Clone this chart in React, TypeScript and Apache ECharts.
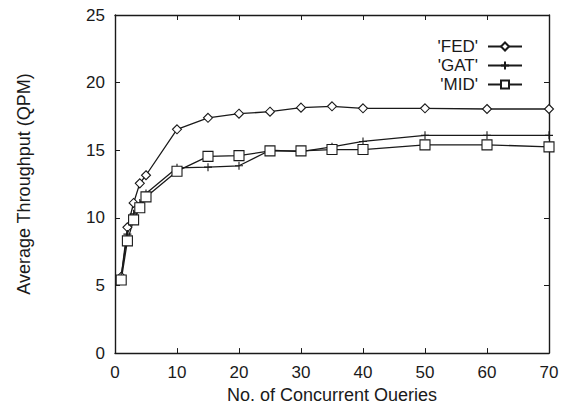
import React, { useEffect, useRef } from "react";
import * as echarts from "echarts";

const xValues = [1, 2, 3, 4, 5, 10, 15, 20, 25, 30, 35, 40, 50, 60, 70];
const fedValues = [5.65, 9.3, 11.1, 12.55, 13.15, 16.55, 17.4, 17.7, 17.85, 18.15, 18.25, 18.1, 18.1, 18.05, 18.05];
const gatValues = [5.7, 8.8, 10.3, 11.1, 11.8, 13.7, 13.75, 13.85, 15.0, 14.9, 15.25, 15.65, 16.1, 16.1, 16.1];
const midValues = [5.4, 8.3, 9.85, 10.75, 11.55, 13.45, 14.55, 14.6, 14.95, 14.95, 15.05, 15.05, 15.4, 15.4, 15.25];
const xTicks = { min: 0, max: 70, interval: 10 };
const yTicks = { min: 0, max: 25, interval: 5 };
const seriesNames = ["'FED'", "'GAT'", "'MID'"];

const PLUS = "path://M5,0L5,10M0,5L10,5";

export default function App() {
  const ref = useRef<HTMLDivElement>(null);
  useEffect(() => {
    if (!ref.current) return;
    const chart = echarts.init(ref.current, null, { renderer: "svg" });
    const font = "'Liberation Sans', Arial, Helvetica, sans-serif";
    const ink = "#1a1a1a";
    const pair = (vals: number[]) => xValues.map((x, i) => [x, vals[i]]);
    const baseSeries = (name: string, vals: number[], symbol: string, size: number) => ({
      name,
      type: "line",
      data: pair(vals),
      symbol,
      symbolSize: size,
      showAllSymbol: true,
      lineStyle: { color: ink, width: 1.3 },
      itemStyle: { color: "#ffffff", borderColor: ink, borderWidth: 1.1 },
      emphasis: { disabled: true },
    });
    const axisCommon = {
      axisLine: { show: true, onZero: false, lineStyle: { color: ink, width: 1.4 } },
      axisTick: { show: true, inside: true, length: 5, lineStyle: { color: ink, width: 1 } },
      splitLine: { show: false },
    };
    chart.setOption({
      animation: false,
      backgroundColor: "#ffffff",
      textStyle: { fontFamily: font },
      grid: { left: 115, right: 19, top: 15, bottom: 52 },
      legend: {
        orient: "vertical",
        right: 40,
        top: 33,
        align: "right",
        itemWidth: 34,
        itemHeight: 10,
        itemGap: 2,
        textStyle: { fontFamily: font, fontSize: 17, color: ink, padding: [0, 5, 0, 0] },
        data: seriesNames,
      },
      xAxis: [
        {
          type: "value",
          ...xTicks,
          position: "bottom",
          ...axisCommon,
          axisLabel: { color: ink, fontSize: 17, fontFamily: font, margin: 11 },
          name: "No. of Concurrent Queries",
          nameLocation: "middle",
          nameGap: 30,
          nameTextStyle: { color: ink, fontSize: 18, fontFamily: font },
        },
        {
          type: "value",
          ...xTicks,
          position: "top",
          ...axisCommon,
          axisLabel: { show: false },
        },
      ],
      yAxis: [
        {
          type: "value",
          ...yTicks,
          position: "left",
          ...axisCommon,
          axisLabel: { color: ink, fontSize: 17, fontFamily: font, margin: 10 },
          name: "Average Throughput (QPM)",
          nameLocation: "middle",
          nameGap: 82,
          nameTextStyle: { color: ink, fontSize: 18, fontFamily: font },
        },
        {
          type: "value",
          ...yTicks,
          position: "right",
          ...axisCommon,
          axisLabel: { show: false },
        },
      ],
      series: [
        baseSeries(seriesNames[0], fedValues, "diamond", 9),
        baseSeries(seriesNames[1], gatValues, PLUS, 8),
        baseSeries(seriesNames[2], midValues, "rect", 10),
      ],
    });
    return () => chart.dispose();
  }, []);
  return <div ref={ref} style={{ width: 568, height: 409, margin: -8 }} />;
}
